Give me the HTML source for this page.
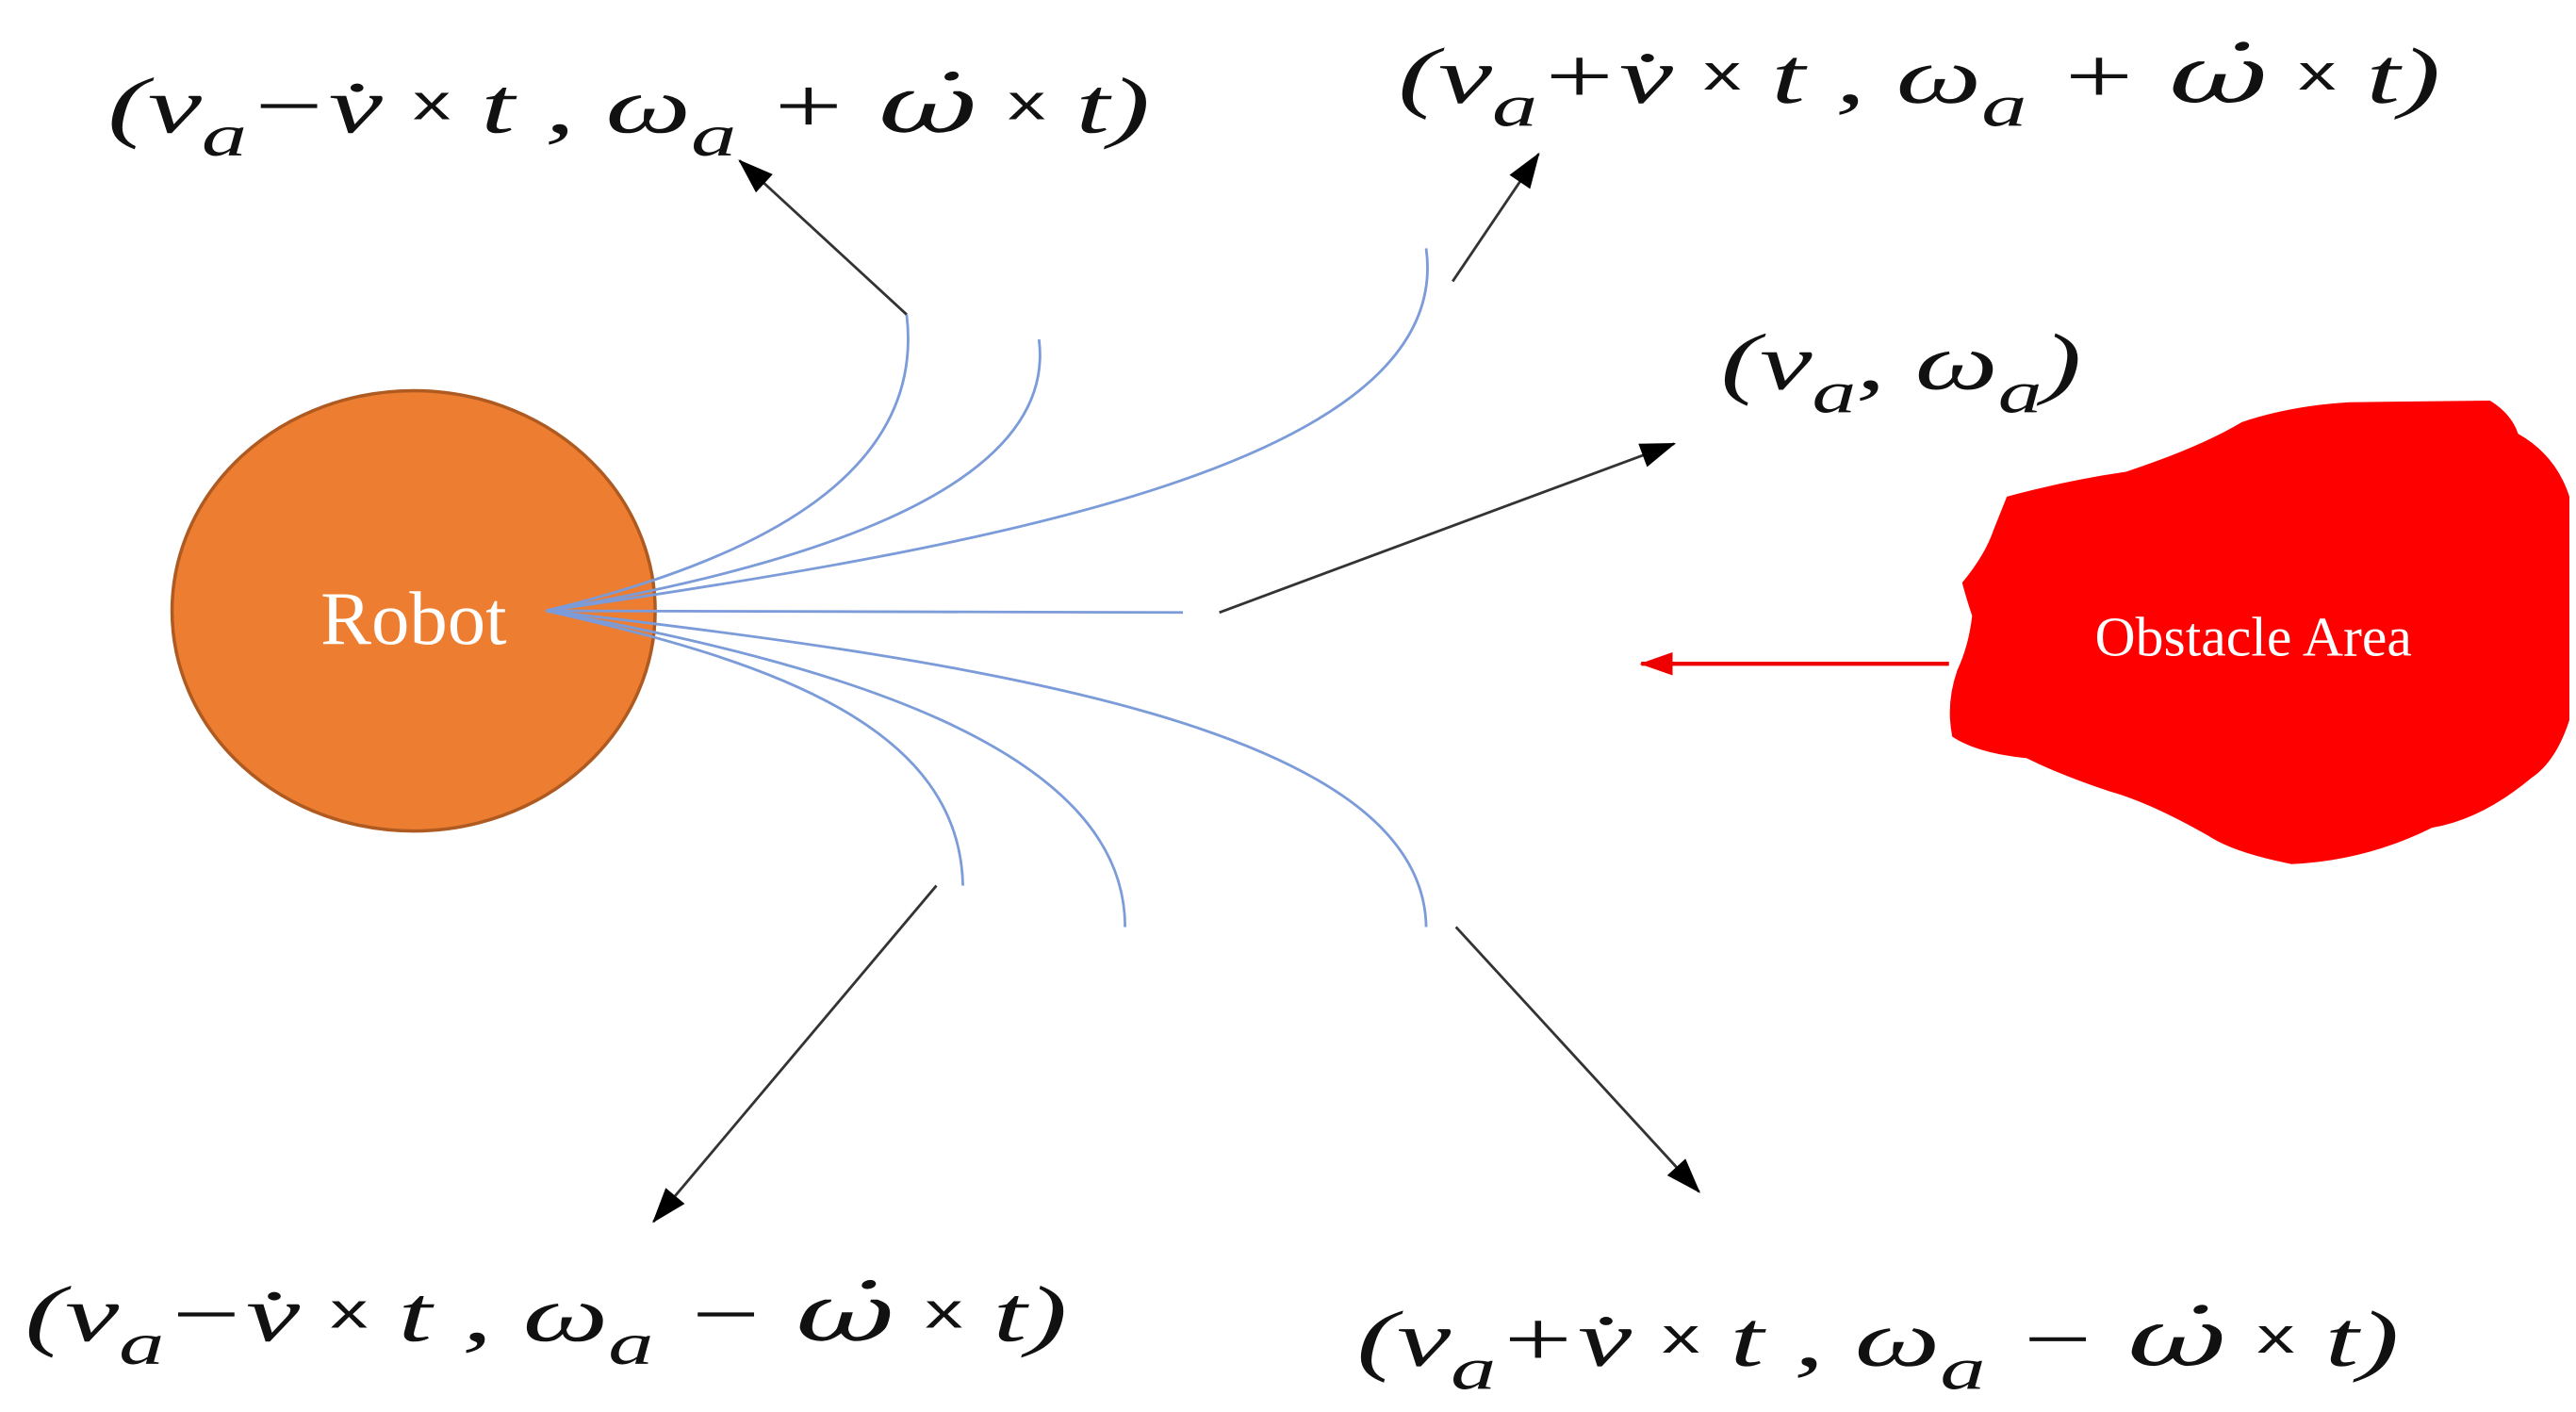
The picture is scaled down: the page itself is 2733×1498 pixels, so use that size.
<!DOCTYPE html>
<html><head><meta charset="utf-8"><style>
html,body{margin:0;padding:0;background:#fff;}
svg{display:block;}
.m{font-family:"Liberation Serif","DejaVu Serif",serif;font-style:italic;font-size:48px;fill:#111;}
.u{font-style:normal;font-family:"Liberation Sans",sans-serif;font-size:30px;}
.s{font-size:36px;}
.d{font-family:"DejaVu Serif",serif;}
</style></head><body>
<svg width="2733" height="1498" viewBox="0 0 1557 853" preserveAspectRatio="none" xmlns="http://www.w3.org/2000/svg">
<marker id="a" viewBox="0 0 20 14" refX="19" refY="7" markerWidth="22" markerHeight="15" orient="auto" markerUnits="userSpaceOnUse"><path d="M0,0 L20,7 L0,14 z" fill="#000"/></marker>
<marker id="ar" viewBox="0 0 20 14" refX="19" refY="7" markerWidth="20" markerHeight="14" orient="auto" markerUnits="userSpaceOnUse"><path d="M0,0 L20,7 L0,14 z" fill="#e00"/></marker>

<ellipse cx="250" cy="369" rx="146" ry="133" fill="#ED7D31" stroke="#AE5A21" stroke-width="2"/>
<text x="250" y="389" text-anchor="middle" font-family="Liberation Serif,serif" font-size="46" fill="#fff">Robot</text>

<g fill="none" stroke="#7B9BD9" stroke-width="1.6">
<path d="M330,369 C450,340 560,290 548,190"/>
<path d="M330,369 C470,345 640,300 628,205"/>
<path d="M330,369 C600,330 880,280 862,150"/>
<path d="M330,369 L715,370"/>
<path d="M330,369 C600,400 860,440 862,560"/>
<path d="M330,369 C500,400 680,450 680,560"/>
<path d="M330,369 C470,400 580,440 582,535"/>
</g>

<g stroke="#333" stroke-width="1.6" fill="none">
<line x1="548" y1="190" x2="447" y2="97" marker-end="url(#a)"/>
<line x1="878" y1="170" x2="930" y2="93" marker-end="url(#a)"/>
<line x1="737" y1="370" x2="1012" y2="268" marker-end="url(#a)"/>
<line x1="566" y1="535" x2="395" y2="738" marker-end="url(#a)"/>
<line x1="880" y1="560" x2="1027" y2="720" marker-end="url(#a)"/>
</g>
<line x1="1178" y1="401" x2="992" y2="401" stroke="#e00" stroke-width="2.5" marker-end="url(#ar)"/>

<path d="M1213,300 Q1250,290 1285,285 Q1330,270 1355,255 Q1385,245 1420,243 L1505,242 Q1518,250 1522,262 Q1545,275 1553,300 L1553,435 Q1545,460 1530,470 Q1500,495 1470,500 Q1430,520 1385,522 Q1350,515 1335,505 Q1300,485 1275,478 Q1245,468 1225,458 Q1195,455 1180,445 Q1176,425 1183,405 Q1190,390 1192,372 Q1188,360 1186,352 Q1200,335 1205,320 Z" fill="#FF0000"/>
<text x="1362" y="396" text-anchor="middle" font-family="Liberation Serif,serif" font-size="34" fill="#fff">Obstacle Area</text>

<text class="m" x="65" y="80" textLength="630" lengthAdjust="spacingAndGlyphs">(v<tspan class="s" dy="14">a</tspan><tspan dy="-14">−v̇ </tspan><tspan class="u" dy="-8">x</tspan><tspan dy="8"> t , ω</tspan><tspan class="s" dy="14">a</tspan><tspan dy="-14"> + </tspan><tspan class="d">ω̇</tspan><tspan> </tspan><tspan class="u" dy="-8">x</tspan><tspan dy="8"> t)</tspan></text>
<text class="m" x="845" y="62" textLength="630" lengthAdjust="spacingAndGlyphs">(v<tspan class="s" dy="14">a</tspan><tspan dy="-14">+v̇ </tspan><tspan class="u" dy="-8">x</tspan><tspan dy="8"> t , ω</tspan><tspan class="s" dy="14">a</tspan><tspan dy="-14"> + </tspan><tspan class="d">ω̇</tspan><tspan> </tspan><tspan class="u" dy="-8">x</tspan><tspan dy="8"> t)</tspan></text>
<text class="m" x="1040" y="235" textLength="218" lengthAdjust="spacingAndGlyphs">(v<tspan class="s" dy="14">a</tspan><tspan dy="-14">, ω</tspan><tspan class="s" dy="14">a</tspan><tspan dy="-14">)</tspan></text>
<text class="m" x="15" y="810" textLength="630" lengthAdjust="spacingAndGlyphs">(v<tspan class="s" dy="14">a</tspan><tspan dy="-14">−v̇ </tspan><tspan class="u" dy="-8">x</tspan><tspan dy="8"> t , ω</tspan><tspan class="s" dy="14">a</tspan><tspan dy="-14"> − </tspan><tspan class="d">ω̇</tspan><tspan> </tspan><tspan class="u" dy="-8">x</tspan><tspan dy="8"> t)</tspan></text>
<text class="m" x="820" y="825" textLength="630" lengthAdjust="spacingAndGlyphs">(v<tspan class="s" dy="14">a</tspan><tspan dy="-14">+v̇ </tspan><tspan class="u" dy="-8">x</tspan><tspan dy="8"> t , ω</tspan><tspan class="s" dy="14">a</tspan><tspan dy="-14"> − </tspan><tspan class="d">ω̇</tspan><tspan> </tspan><tspan class="u" dy="-8">x</tspan><tspan dy="8"> t)</tspan></text>
</svg>
</body></html>
